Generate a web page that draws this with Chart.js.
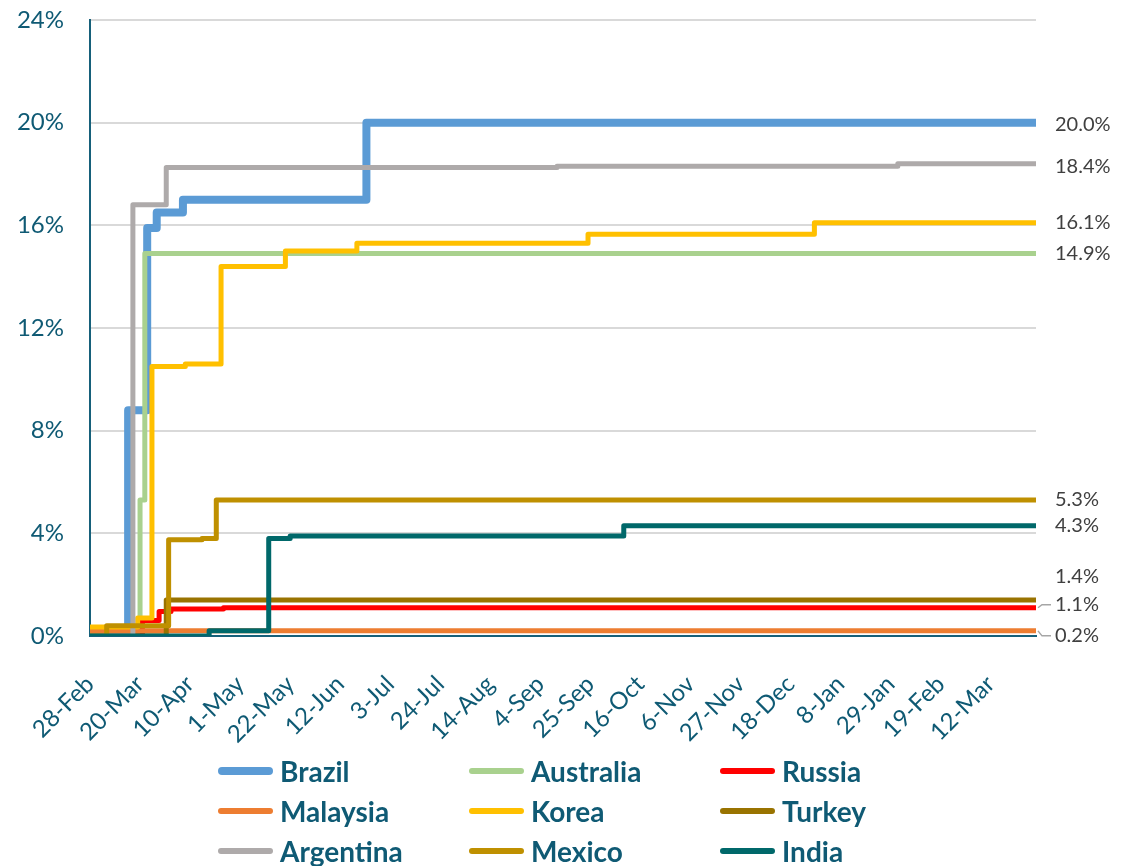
<!DOCTYPE html>
<html>
<head>
<meta charset="utf-8">
<title>Cumulative share</title>
<script src="https://cdn.jsdelivr.net/npm/chart.js@4/dist/chart.umd.min.js"></script>
<style>
  html, body { margin: 0; padding: 0; background: #ffffff; }
  #wrap { position: relative; width: 1122px; height: 866px; overflow: hidden; }
  #legend {
    position: absolute; left: 218px; top: 751px;
    display: grid; grid-template-columns: 251px 251px 251px; grid-auto-rows: 40px;
    font-family: Lato, "Open Sans", sans-serif; font-weight: 700; font-size: 28px; color: #0F5A74;
  }
  .item { display: flex; align-items: center; white-space: nowrap; }
  .swatch { width: 55px; border-radius: 4px; margin-right: 7px; }
</style>
</head>
<body>
<div id="wrap">
  <canvas id="c" width="1122" height="866"></canvas>
  <div id="legend"></div>
</div>
<script>
// Axis range and tick marks
const startDate = '2020-02-28';
const endDate = '2021-03-31';
const tickDates = ['2020-02-28', '2020-03-20', '2020-04-10', '2020-05-01', '2020-05-22', '2020-06-12',
  '2020-07-03', '2020-07-24', '2020-08-14', '2020-09-04', '2020-09-25', '2020-10-16', '2020-11-06',
  '2020-11-27', '2020-12-18', '2021-01-08', '2021-01-29', '2021-02-19', '2021-03-12'];
const tickLabels = ['28-Feb', '20-Mar', '10-Apr', '1-May', '22-May', '12-Jun', '3-Jul', '24-Jul',
  '14-Aug', '4-Sep', '25-Sep', '16-Oct', '6-Nov', '27-Nov', '18-Dec', '8-Jan', '29-Jan', '19-Feb', '12-Mar'];
const yTicks = [0, 4, 8, 12, 16, 20, 24];

// Series: dates on which the level changes, and the level (%) held from that date on
const countries = ['Brazil', 'Australia', 'Russia', 'Malaysia', 'Korea', 'Turkey', 'Argentina', 'Mexico', 'India'];

const brazilDates = ['2020-02-28', '2020-03-15', '2020-03-23', '2020-03-27', '2020-04-07', '2020-06-23', '2021-03-31'];
const brazilValues = [0, 8.8, 15.9, 16.5, 17.0, 20.0, 20.0];

const australiaDates = ['2020-02-28', '2020-03-20', '2020-03-22', '2021-03-31'];
const australiaValues = [0, 5.3, 14.9, 14.9];

const russiaDates = ['2020-02-28', '2020-03-21', '2020-03-28', '2020-04-02', '2020-04-24', '2021-03-31'];
const russiaValues = [0, 0.6, 0.95, 1.05, 1.1, 1.1];

const malaysiaDates = ['2020-02-28', '2021-03-31'];
const malaysiaValues = [0.2, 0.2];

const koreaDates = ['2020-02-28', '2020-03-19', '2020-03-25', '2020-04-08', '2020-04-23', '2020-05-20',
  '2020-06-19', '2020-09-24', '2020-12-28', '2021-03-31'];
const koreaValues = [0.35, 0.7, 10.5, 10.6, 14.4, 15.0, 15.3, 15.65, 16.1, 16.1];

const turkeyDates = ['2020-02-28', '2020-03-31', '2021-03-31'];
const turkeyValues = [0, 1.4, 1.4];

const argentinaDates = ['2020-02-28', '2020-03-17', '2020-03-31', '2020-09-11', '2021-02-01', '2021-03-31'];
const argentinaValues = [0, 16.8, 18.25, 18.3, 18.4, 18.4];

const mexicoDates = ['2020-02-28', '2020-03-06', '2020-04-01', '2020-04-15', '2020-04-21', '2021-03-31'];
const mexicoValues = [0, 0.4, 3.75, 3.8, 5.3, 5.3];

const indiaDates = ['2020-02-28', '2020-04-18', '2020-05-13', '2020-05-22', '2020-10-09', '2021-03-31'];
const indiaValues = [0, 0.2, 3.8, 3.9, 4.3, 4.3];

const seriesDates = [brazilDates, australiaDates, russiaDates, malaysiaDates, koreaDates,
  turkeyDates, argentinaDates, mexicoDates, indiaDates];
const seriesValues = [brazilValues, australiaValues, russiaValues, malaysiaValues, koreaValues,
  turkeyValues, argentinaValues, mexicoValues, indiaValues];

// Styling
const lineColors = ['#5B9BD5', '#A9D18E', '#FF0000', '#ED7D31', '#FFC000', '#997300', '#AEAAAA', '#BF9000', '#00686A'];
const lineWidths = [8, 5, 5, 5, 5, 5, 5, 5, 5];
const axisColor = '#16607A';
const textColor = '#0F5A74';
const labelShift = { Brazil: 2, Argentina: 3, Turkey: -24, Russia: -3, Malaysia: 5 };

const DAY = 86400000;
const dayIndex = d => Math.round((Date.parse(d) - Date.parse(startDate)) / DAY);

const datasets = countries.map((name, i) => ({
  label: name,
  data: seriesDates[i].map((d, k) => ({ x: dayIndex(d), y: seriesValues[i][k] })),
  borderColor: lineColors[i],
  backgroundColor: lineColors[i],
  borderWidth: lineWidths[i],
  stepped: 'before',
  pointRadius: 0,
  fill: false,
  order: countries.length - i
}));

// Value labels at the right end of each line
const endLabels = {
  id: 'endLabels',
  afterDatasetsDraw(chart) {
    const { ctx, chartArea, scales } = chart;
    const y = scales.y;
    ctx.save();
    ctx.font = '20px Lato, "Open Sans", sans-serif';
    ctx.fillStyle = '#404040';
    ctx.textBaseline = 'middle';
    ctx.textAlign = 'left';
    chart.data.datasets.forEach(ds => {
      const last = ds.data[ds.data.length - 1].y;
      const lineY = y.getPixelForValue(last);
      const ly = lineY + (labelShift[ds.label] || 0);
      ctx.fillText(last.toFixed(1) + '%', chartArea.right + 19, ly);
      if (ds.label === 'Russia' || ds.label === 'Malaysia') {
        ctx.strokeStyle = '#A6A6A6';
        ctx.lineWidth = 1.5;
        ctx.beginPath();
        ctx.moveTo(chartArea.right + 2, lineY);
        ctx.lineTo(chartArea.right + 6, ly);
        ctx.lineTo(chartArea.right + 15, ly);
        ctx.stroke();
      }
    });
    ctx.restore();
  }
};

new Chart(document.getElementById('c'), {
  type: 'line',
  data: { datasets },
  plugins: [endLabels],
  options: {
    responsive: false,
    animation: false,
    devicePixelRatio: 1,
    layout: { padding: { top: 20, right: 86, left: 0, bottom: 0 } },
    plugins: { legend: { display: false }, tooltip: { enabled: false } },
    elements: { line: { borderJoinStyle: 'round', borderCapStyle: 'butt', tension: 0 } },
    scales: {
      x: {
        type: 'linear',
        min: 0,
        max: dayIndex(endDate),
        afterBuildTicks(s) { s.ticks = tickDates.map(d => ({ value: dayIndex(d) })); },
        afterFit(s) { s.height = 230; },
        grid: { display: false, drawTicks: false },
        border: { display: true, color: axisColor, width: 2 },
        ticks: {
          autoSkip: false, minRotation: 45, maxRotation: 45, padding: 34,
          color: textColor, font: { family: 'Lato', size: 24 },
          callback: (v, i) => tickLabels[i]
        }
      },
      y: {
        min: 0,
        max: 24,
        afterBuildTicks(s) { s.ticks = yTicks.map(v => ({ value: v })); },
        afterFit(s) { s.width = 90; },
        grid: { color: '#D9D9D9', lineWidth: 2, drawTicks: true, tickLength: 24, tickColor: 'rgba(0,0,0,0)' },
        border: { display: true, color: axisColor, width: 2 },
        ticks: {
          padding: 2, color: textColor, font: { family: 'Lato', size: 24 },
          callback: v => v + '%'
        }
      }
    }
  }
});

// Legend in three columns
const legend = document.getElementById('legend');
countries.forEach((name, i) => {
  const item = document.createElement('div');
  item.className = 'item';
  const sw = document.createElement('span');
  sw.className = 'swatch';
  sw.style.height = (i === 0 ? 8 : 6) + 'px';
  sw.style.background = lineColors[i];
  const tx = document.createElement('span');
  tx.textContent = name;
  item.appendChild(sw);
  item.appendChild(tx);
  legend.appendChild(item);
});
</script>
</body>
</html>
